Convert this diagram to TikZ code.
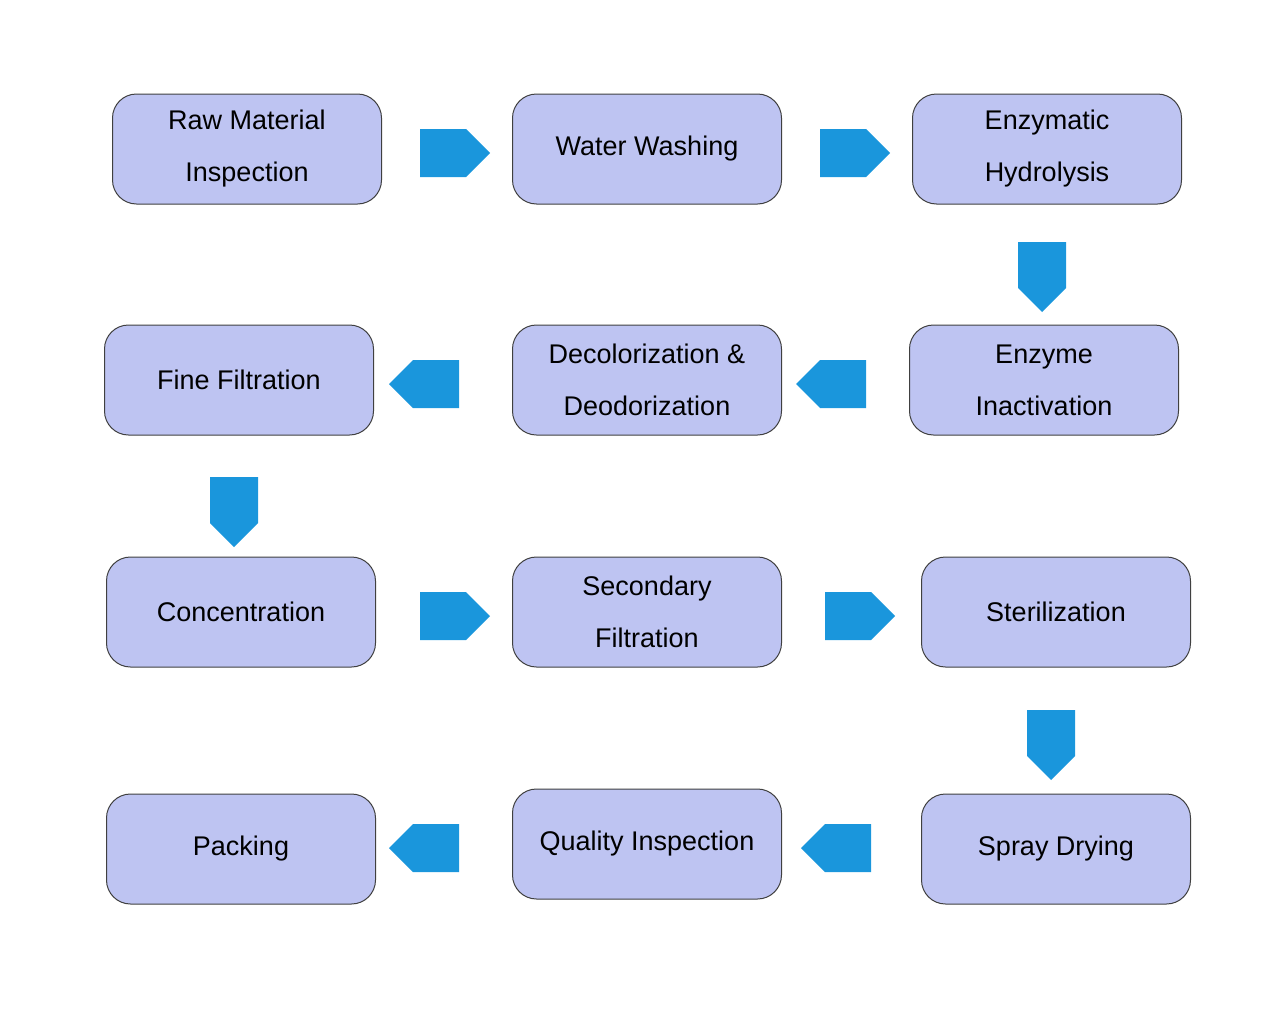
\documentclass[tikz,border=0pt]{standalone}
\usepackage{fontspec}
\setmainfont{Liberation Sans}
\usetikzlibrary{shapes.arrows}
\definecolor{boxfill}{HTML}{BEC4F2}
\definecolor{arr}{HTML}{1A96DC}
\begin{document}
\begin{tikzpicture}[x=1pt,y=-1pt,
 box/.style={draw=black!75,line width=1pt,fill=boxfill,rounded corners=24pt,minimum width=269pt,minimum height=110pt,align=center,font=\fontsize{27}{52}\selectfont,inner sep=0pt},
 ar/.style={single arrow,fill=arr,draw=none,minimum height=70pt,minimum width=48pt,single arrow head extend=0pt,inner sep=0pt,shape border uses incircle}]
\useasboundingbox (0,0) rectangle (1267,1020);
\node[box] (a1) at (247,149) {Raw Material\\Inspection};
\node[box] (a2) at (647,149) {Water Washing};
\node[box] (a3) at (1047,149) {Enzymatic\\Hydrolysis};
\node[box] (b3) at (1044,380) {Enzyme\\Inactivation};
\node[box] (b2) at (647,380) {Decolorization \&\\Deodorization};
\node[box] (b1) at (239,380) {Fine Filtration};
\node[box] (c1) at (241,612) {Concentration};
\node[box] (c2) at (647,612) {Secondary\\Filtration};
\node[box] (c3) at (1056,612) {Sterilization};
\node[box] (d3) at (1056,849) {Spray Drying};
\node[box] (d2) at (647,844) {Quality Inspection};
\node[box] (d1) at (241,849) {Packing};
\tikzset{ar/.append style={single arrow head indent=0pt}}
\node[ar,shape border rotate=0] (p1) at (443,153) {};
\node[ar,shape border rotate=0] (p2) at (843,153) {};
\node[ar,shape border rotate=270] (p3) at (1042,265) {};
\node[ar,shape border rotate=180] (p4) at (843,384) {};
\node[ar,shape border rotate=180] (p5) at (436,384) {};
\node[ar,shape border rotate=270] (p6) at (234,500) {};
\node[ar,shape border rotate=0] (p7) at (443,616) {};
\node[ar,shape border rotate=0] (p8) at (848,616) {};
\node[ar,shape border rotate=270] (p9) at (1051,733) {};
\node[ar,shape border rotate=180] (p10) at (848,848) {};
\node[ar,shape border rotate=180] (p11) at (436,848) {};
\end{tikzpicture}
\end{document}
